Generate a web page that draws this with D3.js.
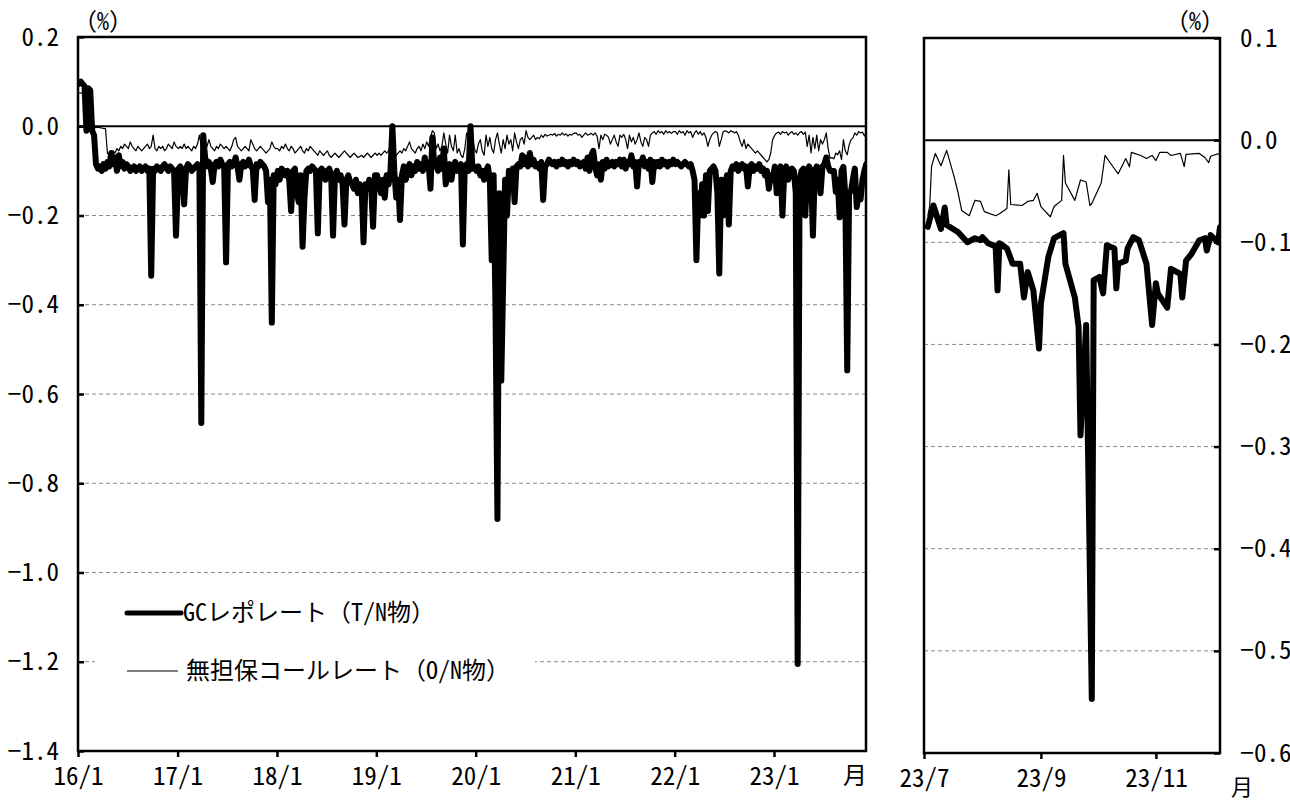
<!DOCTYPE html>
<html><head><meta charset="utf-8">
<script src="https://cdn.jsdelivr.net/npm/d3@7"></script>
<style>
body{margin:0;background:#fff}
svg text{font-family:"Noto Sans Mono CJK JP","Noto Sans CJK JP",sans-serif;fill:#000;font-size:24px}
svg .tick text{font-size:25px}
</style></head><body>
<svg id="c" width="1290" height="803"></svg>
<script>
// ---- weekly values, left panel (one value per week, starting first week of each year) ----
const gc2016=[0.095,0.1,0.095,0.09,-0.01,0.085,0.08,-0.01,-0.02,-0.085,-0.095,
 -0.09,-0.1,-0.085,-0.095,-0.08,-0.09,-0.06,-0.085,-0.07,-0.1,
 -0.065,-0.09,-0.08,-0.095,-0.085,-0.09,-0.1,-0.095,-0.09,-0.1,
 -0.095,-0.09,-0.1,-0.095,-0.09,-0.1,-0.095,-0.335,-0.095,-0.1,
 -0.09,-0.095,-0.1,-0.09,-0.085,-0.095,-0.1,-0.09,-0.095,-0.1,-0.245];
const gc2017=[-0.095,-0.09,-0.1,-0.175,-0.095,-0.085,-0.09,-0.1,-0.095,-0.09,
 -0.085,-0.095,-0.665,-0.02,-0.07,-0.09,-0.08,-0.095,-0.125,-0.085,
 -0.08,-0.09,-0.075,-0.085,-0.09,-0.305,-0.085,-0.08,-0.09,-0.085,
 -0.07,-0.09,-0.12,-0.085,-0.08,-0.09,-0.085,-0.075,-0.09,-0.095,
 -0.165,-0.085,-0.09,-0.08,-0.085,-0.09,-0.1,-0.17,-0.12,-0.44,-0.11,-0.13];
const gc2018=[-0.1,-0.12,-0.095,-0.1,-0.11,-0.1,-0.12,-0.19,-0.1,-0.095,
 -0.15,-0.17,-0.11,-0.27,-0.16,-0.1,-0.095,-0.1,-0.09,-0.095,
 -0.1,-0.24,-0.1,-0.095,-0.1,-0.12,-0.1,-0.095,-0.11,-0.245,
 -0.11,-0.1,-0.12,-0.11,-0.13,-0.22,-0.12,-0.11,-0.125,-0.13,
 -0.14,-0.12,-0.15,-0.13,-0.135,-0.26,-0.13,-0.14,-0.12,-0.135,-0.225,-0.11];
const gc2019=[-0.11,-0.13,-0.15,-0.12,-0.16,-0.11,-0.13,-0.1,0.0,-0.1,
 -0.16,-0.12,-0.21,-0.11,-0.09,-0.12,-0.1,-0.085,-0.11,-0.09,
 -0.1,-0.08,-0.095,-0.085,-0.1,-0.07,-0.09,-0.085,-0.14,-0.025,
 -0.09,-0.08,-0.1,-0.07,-0.095,-0.05,-0.13,-0.1,-0.085,-0.12,
 -0.09,-0.08,-0.1,-0.09,-0.085,-0.265,-0.09,-0.085,-0.1,0.0,-0.095,-0.09];
const gc2020=[-0.1,-0.09,-0.11,-0.1,-0.12,-0.1,-0.09,-0.12,-0.3,-0.11,
 -0.42,-0.88,-0.15,-0.57,-0.35,-0.12,-0.2,-0.1,-0.11,-0.095,
 -0.17,-0.09,-0.085,-0.09,-0.065,-0.085,-0.07,-0.09,-0.06,-0.085,
 -0.075,-0.09,-0.085,-0.095,-0.08,-0.165,-0.09,-0.085,-0.075,-0.08,
 -0.085,-0.08,-0.09,-0.08,-0.085,-0.075,-0.085,-0.08,-0.09,-0.08,-0.085,-0.075];
const gc2021=[-0.085,-0.08,-0.09,-0.085,-0.08,-0.095,-0.07,-0.1,-0.065,-0.055,
 -0.09,-0.11,-0.085,-0.12,-0.08,-0.095,-0.075,-0.09,-0.085,-0.08,
 -0.09,-0.08,-0.085,-0.075,-0.09,-0.075,-0.095,-0.08,-0.085,-0.065,
 -0.09,-0.08,-0.135,-0.08,-0.085,-0.07,-0.09,-0.08,-0.095,-0.075,
 -0.125,-0.08,-0.09,-0.08,-0.09,-0.075,-0.085,-0.08,-0.09,-0.08,-0.085,-0.075];
const gc2022=[-0.085,-0.08,-0.085,-0.09,-0.085,-0.08,-0.085,-0.09,-0.085,-0.1,
 -0.12,-0.3,-0.15,-0.2,-0.13,-0.2,-0.11,-0.19,-0.1,-0.095,
 -0.09,-0.1,-0.15,-0.33,-0.12,-0.2,-0.13,-0.11,-0.22,-0.1,
 -0.09,-0.095,-0.085,-0.1,-0.09,-0.085,-0.095,-0.09,-0.135,-0.09,
 -0.085,-0.1,-0.09,-0.095,-0.085,-0.1,-0.095,-0.11,-0.1,-0.14,-0.11,-0.12];
const gc2023=[-0.09,-0.15,-0.1,-0.09,-0.2,-0.1,-0.09,-0.12,-0.1,-0.095,
 -0.1,-0.15,-1.205,-0.12,-0.1,-0.095,-0.2,-0.1,-0.09,-0.1,
 -0.245,-0.1,-0.09,-0.095,-0.15,-0.09,-0.085,-0.07,-0.09,-0.1,
 -0.1,-0.1,-0.147,-0.12,-0.204,-0.1,-0.091,-0.154,-0.547,-0.15,
 -0.145,-0.118,-0.095,-0.181,-0.15,-0.164,-0.12,-0.1,-0.085];

const call2016=[0.075,0.074,0.076,0.075,0.07,0.072,0.05,-0.002,-0.001,-0.003,
 -0.002,-0.003,-0.004,-0.005,-0.005,-0.06,-0.065,-0.06,-0.055,-0.06,
 -0.05,-0.055,-0.045,-0.05,-0.04,-0.045,-0.05,-0.035,-0.045,-0.05,
 -0.055,-0.045,-0.05,-0.055,-0.05,-0.045,-0.04,-0.05,-0.045,-0.02,
 -0.05,-0.055,-0.045,-0.05,-0.045,-0.055,-0.05,-0.04,-0.045,-0.05,-0.035,-0.045];
const call2017=[-0.05,-0.045,-0.05,-0.04,-0.05,-0.045,-0.05,-0.055,-0.045,-0.05,
 -0.04,-0.02,-0.045,-0.05,-0.04,-0.045,-0.03,-0.045,-0.05,-0.055,
 -0.045,-0.05,-0.04,-0.045,-0.05,-0.045,-0.05,-0.055,-0.045,-0.03,
 -0.025,-0.045,-0.05,-0.055,-0.05,-0.045,-0.05,-0.055,-0.03,-0.04,
 -0.05,-0.055,-0.05,-0.045,-0.05,-0.055,-0.06,-0.055,-0.05,-0.035,-0.045,-0.05];
const call2018=[-0.05,-0.055,-0.045,-0.05,-0.04,-0.05,-0.055,-0.045,-0.05,-0.06,
 -0.055,-0.05,-0.045,-0.055,-0.06,-0.05,-0.055,-0.045,-0.05,-0.055,
 -0.06,-0.065,-0.055,-0.06,-0.065,-0.06,-0.055,-0.065,-0.07,-0.065,
 -0.06,-0.065,-0.07,-0.065,-0.06,-0.055,-0.06,-0.065,-0.07,-0.065,
 -0.06,-0.065,-0.07,-0.068,-0.065,-0.07,-0.065,-0.06,-0.065,-0.07,-0.065,-0.06];
const call2019=[-0.065,-0.06,-0.065,-0.06,-0.055,-0.06,-0.055,-0.04,-0.03,-0.06,
 -0.065,-0.06,-0.055,-0.06,-0.05,-0.055,-0.045,-0.035,-0.05,-0.055,
 -0.06,-0.05,-0.045,-0.055,-0.04,-0.05,-0.035,-0.045,-0.025,-0.01,
 -0.015,-0.05,-0.04,-0.055,-0.045,-0.015,-0.04,-0.06,-0.02,-0.045,
 -0.055,-0.02,-0.06,-0.05,-0.065,-0.07,-0.05,-0.015,-0.03,-0.012,-0.02,-0.05];
const call2020=[-0.06,-0.04,-0.03,-0.055,-0.065,-0.02,-0.045,-0.025,-0.05,-0.06,
 -0.03,-0.015,-0.04,-0.06,-0.03,-0.05,-0.02,-0.04,-0.03,-0.055,
 -0.015,-0.035,-0.05,-0.03,-0.025,-0.04,-0.01,-0.025,-0.03,-0.025,
 -0.02,-0.03,-0.025,-0.028,-0.02,-0.025,-0.018,-0.022,-0.02,-0.018,
 -0.02,-0.016,-0.022,-0.018,-0.02,-0.015,-0.02,-0.017,-0.022,-0.018,-0.02,-0.016];
const call2021=[-0.015,-0.02,-0.018,-0.025,-0.02,-0.015,-0.02,-0.018,-0.016,-0.02,
 -0.015,-0.022,-0.05,-0.02,-0.03,-0.018,-0.02,-0.025,-0.04,-0.03,
 -0.02,-0.035,-0.045,-0.02,-0.025,-0.018,-0.03,-0.05,-0.02,-0.035,
 -0.025,-0.04,-0.03,-0.015,-0.035,-0.045,-0.025,-0.03,-0.045,-0.02,
 -0.015,-0.012,-0.018,-0.01,-0.015,-0.012,-0.018,-0.01,-0.015,-0.012,-0.016,-0.012];
const call2022=[-0.012,-0.018,-0.01,-0.015,-0.012,-0.02,-0.01,-0.015,-0.012,-0.025,
 -0.015,-0.01,-0.018,-0.012,-0.02,-0.015,-0.025,-0.045,-0.03,-0.02,
 -0.015,-0.012,-0.015,-0.045,-0.03,-0.013,-0.01,-0.012,-0.015,-0.01,
 -0.012,-0.015,-0.012,-0.02,-0.035,-0.045,-0.03,-0.05,-0.04,-0.045,
 -0.05,-0.055,-0.06,-0.055,-0.06,-0.065,-0.07,-0.075,-0.08,-0.075,-0.06,-0.03];
const call2023=[-0.02,-0.015,-0.013,-0.018,-0.012,-0.015,-0.013,-0.02,-0.015,-0.012,
 -0.018,-0.015,-0.02,-0.014,-0.012,-0.018,-0.013,-0.045,-0.02,-0.06,
 -0.025,-0.05,-0.02,-0.055,-0.03,-0.04,-0.03,-0.015,-0.05,-0.072,
 -0.07,-0.073,-0.06,-0.064,-0.055,-0.075,-0.03,-0.055,-0.064,-0.042,
 -0.03,-0.026,-0.015,-0.02,-0.012,-0.015,-0.013,-0.022,-0.014];

// ---- daily values, right panel (2023) ----
const gcRecentDates=["07-03","07-04","07-06","07-10","07-12","07-13","07-19","07-24","07-28","07-31",
 "08-01","08-04","08-08","08-09","08-10","08-14","08-17","08-21","08-23","08-25","08-28","08-31",
 "09-01","09-05","09-08","09-13","09-14","09-19","09-21","09-22","09-25","09-28","09-29",
 "10-02","10-04","10-06","10-10","10-11","10-12","10-16","10-17","10-20","10-23","10-27","10-30",
 "11-01","11-02","11-07","11-09","11-14","11-15","11-17","11-20","11-24","11-27","11-28","11-30","12-04","12-05"];
const gcRecent=[-0.085,-0.078,-0.064,-0.087,-0.066,-0.083,-0.09,-0.1,-0.096,-0.098,
 -0.095,-0.101,-0.104,-0.147,-0.101,-0.106,-0.121,-0.121,-0.154,-0.129,-0.147,-0.204,
 -0.16,-0.114,-0.096,-0.091,-0.121,-0.154,-0.183,-0.289,-0.181,-0.547,-0.137,
 -0.134,-0.15,-0.103,-0.106,-0.145,-0.121,-0.118,-0.106,-0.095,-0.098,-0.121,-0.181,
 -0.14,-0.15,-0.164,-0.126,-0.131,-0.154,-0.118,-0.111,-0.098,-0.096,-0.108,-0.093,-0.1,-0.085];
const callRecentDates=["07-03","07-04","07-05","07-07","07-10","07-13","07-17","07-19","07-21","07-25","07-28","07-31",
 "08-02","08-08","08-10","08-14","08-15","08-16","08-22","08-25","08-28","08-30",
 "09-01","09-06","09-08","09-12","09-13","09-14","09-19","09-22","09-25","09-27","09-28",
 "10-03","10-05","10-10","10-12","10-16","10-18","10-19","10-24","10-27","10-30",
 "11-01","11-03","11-07","11-09","11-14","11-16","11-17","11-24","11-27","11-29","11-30","12-01","12-05"];
const callRecent=[-0.074,-0.065,-0.026,-0.013,-0.025,-0.01,-0.036,-0.051,-0.069,-0.074,-0.059,-0.06,
 -0.07,-0.074,-0.072,-0.067,-0.029,-0.063,-0.064,-0.06,-0.059,-0.052,
 -0.065,-0.075,-0.065,-0.059,-0.015,-0.042,-0.059,-0.039,-0.041,-0.064,-0.062,
 -0.042,-0.015,-0.028,-0.033,-0.018,-0.026,-0.012,-0.015,-0.018,-0.015,
 -0.02,-0.012,-0.012,-0.015,-0.013,-0.026,-0.014,-0.013,-0.017,-0.022,-0.016,-0.015,-0.013];

// ---- axes ----
const leftYTicks=[0.2,0,-0.2,-0.4,-0.6,-0.8,-1.0,-1.2,-1.4];
const leftGrid=[-0.2,-0.4,-0.6,-0.8,-1.0,-1.2];
const leftXTicks=["2016-01-01","2017-01-01","2018-01-01","2019-01-01","2020-01-01","2021-01-01","2022-01-01","2023-01-01"];
const leftXTickLabels=["16/1","17/1","18/1","19/1","20/1","21/1","22/1","23/1"];
const rightYTicks=[0.1,0,-0.1,-0.2,-0.3,-0.4,-0.5,-0.6];
const rightGrid=[-0.1,-0.2,-0.3,-0.4,-0.5];
const rightXTicks=["2023-07-01","2023-09-01","2023-11-01"];
const rightXTickLabels=["23/7","23/9","23/11"];
const seriesNames=["GCレポレート（T/N物）","無担保コールレート（O/N物）"];

const parse=d3.timeParse("%Y-%m-%d");
const weekly=(year,vals)=>vals.map((v,i)=>({date:d3.timeDay.offset(new Date(year,0,1),7*i+3),value:v}));
const gcLeft=[].concat(weekly(2016,gc2016),weekly(2017,gc2017),weekly(2018,gc2018),weekly(2019,gc2019),
  weekly(2020,gc2020),weekly(2021,gc2021),weekly(2022,gc2022),weekly(2023,gc2023));
const callLeft=[].concat(weekly(2016,call2016),weekly(2017,call2017),weekly(2018,call2018),weekly(2019,call2019),
  weekly(2020,call2020),weekly(2021,call2021),weekly(2022,call2022),weekly(2023,call2023));
const gcRight=gcRecentDates.map((d,i)=>({date:parse("2023-"+d),value:gcRecent[i]}));
const callRight=callRecentDates.map((d,i)=>({date:parse("2023-"+d),value:callRecent[i]}));

const svg=d3.select("#c");
const fmt=d=>Math.abs(d)<1e-9?"0.0":(d<0?"−":"")+Math.abs(d).toFixed(1);

function panel(o){
  const x=d3.scaleTime().domain(o.xDomain).range([o.x0,o.x1]);
  const y=d3.scaleLinear().domain(o.yDomain).range([o.y1,o.y0]);
  const g=svg.append("g");
  g.append("clipPath").attr("id",o.id).append("rect")
    .attr("x",o.x0).attr("y",o.y0).attr("width",o.x1-o.x0).attr("height",o.y1-o.y0);
  g.selectAll(".grid").data(o.grid).enter().append("line")
    .attr("x1",o.x0).attr("x2",o.x1).attr("y1",d=>y(d)).attr("y2",d=>y(d))
    .attr("stroke","#8a8a8a").attr("stroke-width",1).attr("stroke-dasharray","4,3");
  if(o.legend){
    g.append("rect").attr("x",95).attr("y",582).attr("width",440).attr("height",110).attr("fill","#fff");
  }
  g.append("line").attr("x1",o.x0).attr("x2",o.x1).attr("y1",y(0)).attr("y2",y(0))
    .attr("stroke","#000").attr("stroke-width",2);
  const line=d3.line().x(d=>x(d.date)).y(d=>y(d.value));
  const dg=g.append("g").attr("clip-path",`url(#${o.id})`);
  dg.append("path").datum(o.call).attr("d",line).attr("fill","none").attr("stroke","#000")
    .attr("stroke-width",1.2).attr("stroke-linejoin","round");
  dg.append("path").datum(o.gc).attr("d",line).attr("fill","none").attr("stroke","#000")
    .attr("stroke-width",6).attr("stroke-linejoin","round").attr("stroke-linecap","round");
  g.append("rect").attr("x",o.x0).attr("y",o.y0).attr("width",o.x1-o.x0).attr("height",o.y1-o.y0)
    .attr("fill","none").attr("stroke","#000").attr("stroke-width",2.5);
  const ya=(o.side==="left"?d3.axisLeft(y):d3.axisRight(y)).tickValues(o.yTicks).tickFormat(fmt)
    .tickSize(-6).tickPadding(o.side==="left"?19:20);
  const yg=g.append("g").attr("transform",`translate(${o.side==="left"?o.x0:o.x1},0)`).call(ya);
  yg.select(".domain").remove();
  yg.selectAll(".tick line").attr("stroke-width",2.5);
  const xa=d3.axisBottom(x).tickValues(o.xTicks.map(parse)).tickFormat((d,i)=>o.xLabels[i])
    .tickSize(6).tickPadding(10);
  const xg=g.append("g").attr("transform",`translate(0,${o.y1})`).call(xa);
  xg.select(".domain").remove();
  xg.selectAll(".tick line").attr("stroke-width",2.5);
  return {x,y,g};
}

panel({id:"clipL",x0:78,x1:866,y0:37,y1:751,xDomain:[new Date(2016,0,1),new Date(2023,11,5)],
  yDomain:[-1.4,0.2],grid:leftGrid,yTicks:leftYTicks,xTicks:leftXTicks,xLabels:leftXTickLabels,
  gc:gcLeft,call:callLeft,side:"left",legend:true});
panel({id:"clipR",x0:924,x1:1220,y0:38,y1:753,xDomain:[new Date(2023,6,1),new Date(2023,11,5)],
  yDomain:[-0.6,0.1],grid:rightGrid,yTicks:rightYTicks,xTicks:rightXTicks,xLabels:rightXTickLabels,
  gc:gcRight,call:callRight,side:"right",legend:false});

svg.append("text").attr("x",73).attr("y",22).attr("dy","0.35em").text("（%）");
svg.append("text").attr("x",1165).attr("y",22).attr("dy","0.35em").text("（%）");
svg.append("text").attr("x",855).attr("y",776).attr("dy","0.35em").attr("text-anchor","middle").text("月");
svg.append("text").attr("x",1242).attr("y",787).attr("dy","0.35em").attr("text-anchor","middle")
  .style("font-size","22px").text("月");

const lg=svg.append("g");
lg.append("line").attr("x1",127).attr("x2",181).attr("y1",613).attr("y2",613)
  .attr("stroke","#000").attr("stroke-width",5).attr("stroke-linecap","round");
lg.append("text").attr("x",183).attr("y",613).attr("dy","0.35em").text(seriesNames[0]);
lg.append("line").attr("x1",127).attr("x2",178).attr("y1",671).attr("y2",671)
  .attr("stroke","#000").attr("stroke-width",1.2);
lg.append("text").attr("x",186).attr("y",671).attr("dy","0.35em").text(seriesNames[1]);
</script>
</body></html>
